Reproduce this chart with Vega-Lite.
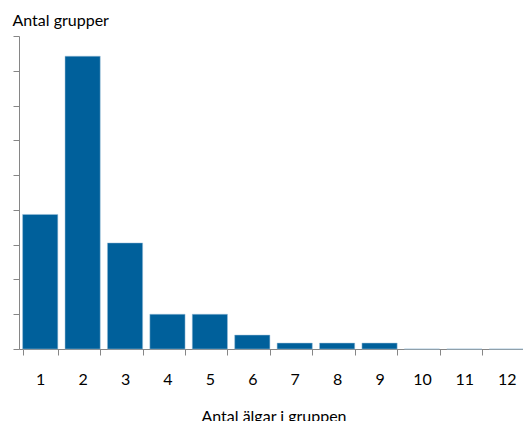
{
  "$schema": "https://vega.github.io/schema/vega-lite/v6.json",
  "width": 509,
  "height": 313,
  "autosize": {"type": "none"},
  "padding": {"left": 19, "top": 36, "right": 0, "bottom": 72},
  "config": {"view": {"stroke": null}, "font": "Lato"},
  "data": {"values": [
    {"antal": "1", "grupper": 3.87},
    {"antal": "2", "grupper": 8.42},
    {"antal": "3", "grupper": 3.05},
    {"antal": "4", "grupper": 1.0},
    {"antal": "5", "grupper": 1.0},
    {"antal": "6", "grupper": 0.4},
    {"antal": "7", "grupper": 0.17},
    {"antal": "8", "grupper": 0.17},
    {"antal": "9", "grupper": 0.17},
    {"antal": "10", "grupper": 0},
    {"antal": "11", "grupper": 0},
    {"antal": "12", "grupper": 0}
  ]},
  "mark": {"type": "bar", "color": "#00609b", "stroke": "#9fc1da", "strokeWidth": 0.5},
  "encoding": {
    "x": {
      "field": "antal", "type": "ordinal", "sort": null,
      "scale": {"paddingInner": 0.17, "paddingOuter": 0.085},
      "axis": {
        "title": "Antal älgar i gruppen",
        "labelAngle": 0,
        "tickBand": "extent",
        "domainColor": "#868686", "tickColor": "#868686",
        "tickSize": 6, "labelPadding": 16,
        "labelFont": "Lato", "labelFontSize": 16, "labelColor": "#000000",
        "titleFont": "Lato", "titleFontSize": 16, "titleFontWeight": "normal", "titleColor": "#000000",
        "titlePadding": 21
      }
    },
    "y": {
      "field": "grupper", "type": "quantitative",
      "scale": {"domain": [0, 9], "nice": false},
      "axis": {
        "values": [0, 1, 2, 3, 4, 5, 6, 7, 8, 9],
        "labels": false, "grid": false,
        "domainColor": "#868686", "tickColor": "#868686", "tickSize": 6,
        "title": "Antal grupper",
        "titleAngle": 0, "titleAlign": "left", "titleBaseline": "alphabetic",
        "titleX": -7, "titleY": -11,
        "titleFont": "Lato", "titleFontSize": 16, "titleFontWeight": "normal", "titleColor": "#000000"
      }
    }
  }
}
